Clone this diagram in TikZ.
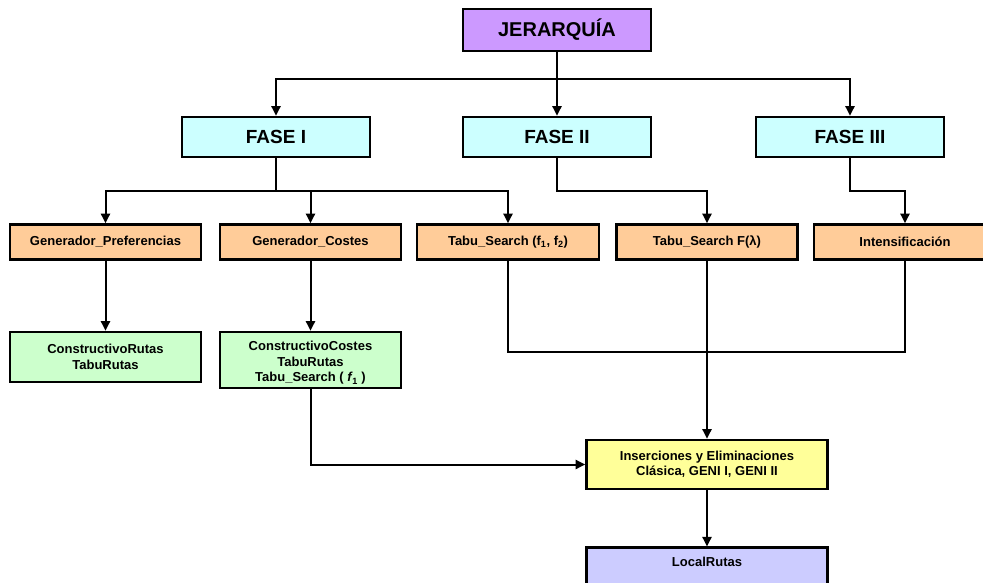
\documentclass[tikz,border=0pt]{standalone}
\usepackage{fontspec}
\setmainfont{Liberation Sans}
\usetikzlibrary{arrows.meta}
\definecolor{cviolet}{HTML}{CC99FF}
\definecolor{ccyan}{HTML}{CCFFFF}
\definecolor{corange}{HTML}{FFCC99}
\definecolor{cgreen}{HTML}{CCFFCC}
\definecolor{cyellow}{HTML}{FFFF99}
\definecolor{cblue}{HTML}{CCCCFF}
\begin{document}
\begin{tikzpicture}[x=1pt,y=-1pt,
  box/.style={draw=black, line width=2.6pt, inner sep=0pt, align=center, font=\bfseries},
  big/.style={box, font=\fontsize{20}{24}\selectfont\bfseries},
  mid/.style={box, font=\fontsize{19}{22}\selectfont\bfseries},
  small/.style={box, font=\fontsize{13}{15.5}\selectfont\bfseries},
  conn/.style={draw=black, line width=2pt},
  arr/.style={conn, -{Triangle[length=9.5pt,width=9pt]}}]
\useasboundingbox (0,0) rectangle (983,582);
% nodes
\node[big, fill=cviolet, minimum width=188pt, minimum height=42pt] (jer) at (557,30) {JERARQUÍA};
\node[mid, fill=ccyan, minimum width=188pt, minimum height=40pt] (f1) at (276,137) {FASE I};
\node[mid, fill=ccyan, minimum width=188pt, minimum height=40pt] (f2) at (557,137) {FASE II};
\node[mid, fill=ccyan, minimum width=188pt, minimum height=40pt] (f3) at (850,137) {FASE III};
\node[small, fill=corange, minimum width=191pt, minimum height=35pt] (gp) at (105.5,242) {Generador\_Preferencias};
\node[small, fill=corange, minimum width=181pt, minimum height=35pt] (gc) at (310.5,242) {Generador\_Costes};
\node[small, fill=corange, minimum width=182pt, minimum height=35pt] (ts) at (508,242) {Tabu\_Search (f$_{\mathbf{1}}$, f$_{\mathbf{2}}$)};
\node[small, fill=corange, minimum width=181pt, minimum height=35pt] (tl) at (707,242) {Tabu\_Search F(λ)};
\node[small, fill=corange, minimum width=182pt, minimum height=35pt] (in) at (905,242) {Intensificación};
\node[small, fill=cgreen, minimum width=191pt, minimum height=50pt] (cr) at (105.5,357) {ConstructivoRutas\\TabuRutas};
\node[small, fill=cgreen, minimum width=181pt, minimum height=56pt] (cc) at (310.5,360) {\rule{0pt}{15.5pt}ConstructivoCostes\\TabuRutas\\Tabu\_Search ( \textit{f}\kern-0.5pt$_{\mathbf{1}}$ )};
\node[small, fill=cyellow, minimum width=241pt, minimum height=49pt] (ie) at (707,464.5) {Inserciones y Eliminaciones\\Clásica, GENI I, GENI II};
\node[small, fill=cblue, minimum width=241pt, inner ysep=8pt, text height=10.5pt, text depth=16pt] (lr) at (707,569) {LocalRutas};
% connectors
\draw[arr] (jer.south) -- (f2.north);
\draw[arr] (jer.south) -- ++(0,27) -| (f1.north);
\draw[arr] (jer.south) -- ++(0,27) -| (f3.north);
\draw[arr] (f1.south) -- ++(0,33) -| (gp.north);
\draw[arr] (f1.south) -- ++(0,33) -| (gc.north);
\draw[arr] (f1.south) -- ++(0,33) -| (ts.north);
\draw[arr] (f2.south) -- ++(0,33) -| (tl.north);
\draw[arr] (f3.south) -- ++(0,33) -| (in.north);
\draw[arr] (gp.south) -- (cr.north);
\draw[arr] (gc.south) -- (cc.north);
\draw[conn] (ts.south) -- ++(0,91) -| (in.south);
\draw[arr] (tl.south) -- (ie.north);
\draw[arr] (cc.south) |- (ie.west);
\draw[arr] (ie.south) -- (lr.north);
\end{tikzpicture}
\end{document}
